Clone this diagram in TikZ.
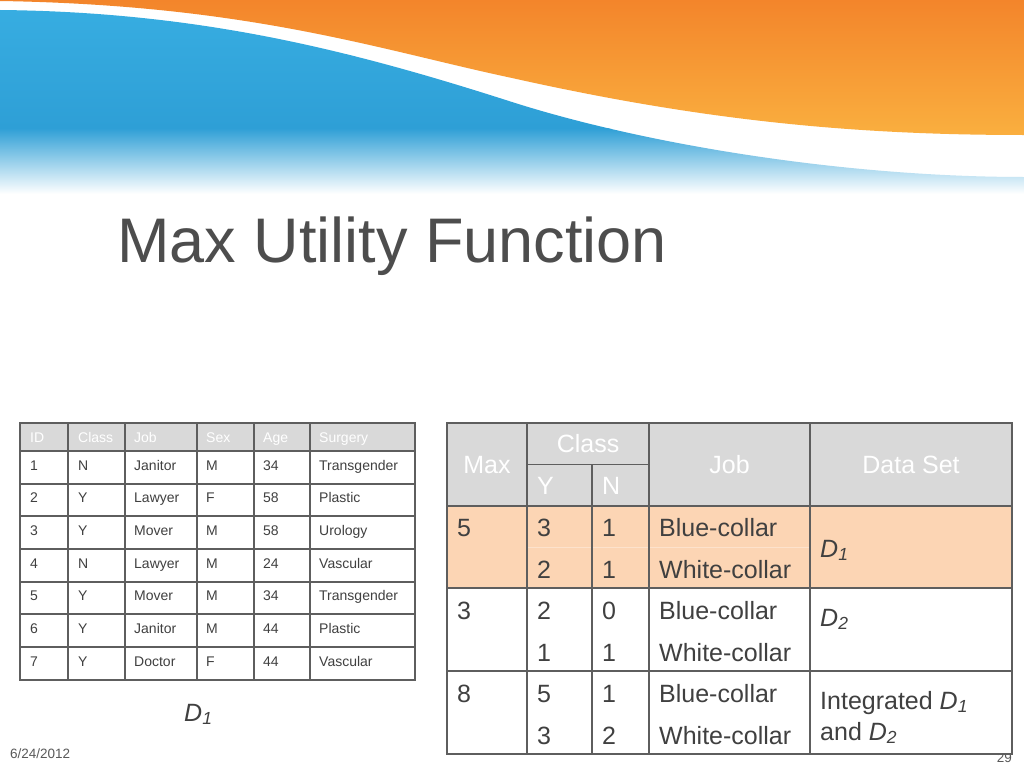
\documentclass[tikz,border=0pt]{standalone}
\usepackage{fontspec}
\setmainfont{Liberation Sans}
\definecolor{blueTop}{HTML}{38AEE2}
\definecolor{blueMid}{HTML}{2E9FD6}
\definecolor{orTop}{HTML}{F3852B}
\definecolor{orBot}{HTML}{FAAF3F}
\definecolor{hdrgray}{HTML}{D9D9D9}
\definecolor{peach}{HTML}{FCD5B4}
\definecolor{peachline}{HTML}{FDE2CC}
\definecolor{txt}{HTML}{404040}
\definecolor{ttl}{HTML}{4D4D4D}
\definecolor{rule}{HTML}{5E5E5E}
\definecolor{foot}{HTML}{595959}
\tikzset{
  title/.style={inner sep=0pt, text=ttl, font=\fontsize{63}{70}\selectfont},
  ltxt/.style={inner sep=0pt, anchor=base west, text=txt, font=\fontsize{14}{16}\selectfont},
  lhdr/.style={ltxt, text=white},
  rtxt/.style={inner sep=0pt, anchor=base west, text=txt, font=\fontsize{25}{30}\selectfont},
  rhdr/.style={inner sep=0pt, text=white, font=\fontsize{25}{30}\selectfont},
  foottxt/.style={inner sep=0pt, text=foot, font=\fontsize{13.5}{16}\selectfont},
  tline/.style={draw=rule, line width=1.4pt},
  rline/.style={draw=rule, line width=1.6pt}
}
\begin{document}
\begin{tikzpicture}[x=1pt,y=-1pt]
\useasboundingbox (0,0) rectangle (1024,768);
\fill[white] (0,0) rectangle (1024,768);

% ---- banner: blue wave ----
\begin{scope}
\clip (0,10) .. controls (200,12) and (350,50) .. (512,102)
      .. controls (650,146) and (850,177) .. (1024,177)
      -- (1024,200) -- (0,200) -- cycle;
\shade[top color=blueTop, bottom color=blueMid] (0,0) rectangle (1024,128);
\shade[top color=blueMid, bottom color=white] (0,128) rectangle (1024,194);
\end{scope}
% ---- banner: orange wave ----
\shade[top color=orTop, bottom color=orBot] (0,0) -- (0,1)
      .. controls (250,5) and (380,50) .. (512,78)
      .. controls (700,120) and (850,135) .. (1024,135)
      -- (1024,0) -- cycle;

% ---- title ----
\node[title, anchor=base west] (title) at (117,262) {Max Utility Function};

% ---- footer ----
\node[foottxt, anchor=base west] (date) at (10,758) {6/24/2012};
\node[foottxt, anchor=base east] (page) at (1012,762) {29};

% ---- left table ----
\fill[hdrgray] (20,423) rectangle (415,451);
\fill[white] (20,451) rectangle (415,680);
\foreach \yy in {451,484,516,549,582,614,647}
  \draw[tline] (20,\yy) -- (415,\yy);
\foreach \xx in {68,125,197,254,310}
  \draw[tline] (\xx,423) -- (\xx,680);
\draw[tline] (20,423) rectangle (415,680);

\node[lhdr] (h1) at (30,442) {ID};
\node[lhdr] (h2) at (78,442) {Class};
\node[lhdr] (h3) at (134,442) {Job};
\node[lhdr] (h4) at (206,442) {Sex};
\node[lhdr] (h5) at (263,442) {Age};
\node[lhdr] (h6) at (319,442) {Surgery};

\foreach \i/\a/\b/\c/\d/\e/\f in {
  0/1/N/Janitor/M/34/Transgender,
  1/2/Y/Lawyer/F/58/Plastic,
  2/3/Y/Mover/M/58/Urology,
  3/4/N/Lawyer/M/24/Vascular,
  4/5/Y/Mover/M/34/Transgender,
  5/6/Y/Janitor/M/44/Plastic,
  6/7/Y/Doctor/F/44/Vascular}{
  \pgfmathsetmacro{\yb}{470+\i*32.7}
  \node[ltxt] (l\i a) at (30,\yb) {\a};
  \node[ltxt] (l\i b) at (78,\yb) {\b};
  \node[ltxt] (l\i c) at (134,\yb) {\c};
  \node[ltxt] (l\i d) at (206,\yb) {\d};
  \node[ltxt] (l\i e) at (263,\yb) {\e};
  \node[ltxt] (l\i f) at (319,\yb) {\f};
}
\node[rtxt] (d1left) at (184,721) {\textit{D\textsubscript{1}}};

% ---- right table ----
\fill[hdrgray] (447,423) rectangle (1012,506);
\fill[peach] (447,506) rectangle (1012,588);
\fill[white] (447,588) rectangle (1012,754);
\draw[peachline, line width=1pt] (527,547) -- (810,547);
\draw[rline] (527,464.5) -- (649,464.5);
\foreach \yy in {506,588,671}
  \draw[rline] (447,\yy) -- (1012,\yy);
\foreach \xx in {527,649,810}
  \draw[rline] (\xx,423) -- (\xx,754);
\draw[rline] (592,464.5) -- (592,754);
\draw[rline] (447,423) rectangle (1012,754);

\node[rhdr] (rmax) at (487,465) {Max};
\node[rhdr] (rclass) at (588,444) {Class};
\node[rhdr, anchor=west] (ry) at (537,486) {Y};
\node[rhdr, anchor=west] (rn) at (602,486) {N};
\node[rhdr] (rjob) at (729.5,465) {Job};
\node[rhdr] (rds) at (911,465) {Data Set};

% row 1
\node[rtxt] (r1a) at (457,536) {5};
\node[rtxt] (r1b) at (537,536) {3};
\node[rtxt] (r1c) at (602,536) {1};
\node[rtxt] (r1d) at (659,536) {Blue-collar};
\node[rtxt] (r1e) at (537,578) {2};
\node[rtxt] (r1f) at (602,578) {1};
\node[rtxt] (r1g) at (659,578) {White-collar};
\node[rtxt] (r1h) at (820,557) {\textit{D\textsubscript{1}}};
% row 2
\node[rtxt] (r2a) at (457,619) {3};
\node[rtxt] (r2b) at (537,619) {2};
\node[rtxt] (r2c) at (602,619) {0};
\node[rtxt] (r2d) at (659,619) {Blue-collar};
\node[rtxt] (r2e) at (537,661) {1};
\node[rtxt] (r2f) at (602,661) {1};
\node[rtxt] (r2g) at (659,661) {White-collar};
\node[rtxt] (r2h) at (820,626) {\textit{D\textsubscript{2}}};
% row 3
\node[rtxt] (r3a) at (457,702) {8};
\node[rtxt] (r3b) at (537,702) {5};
\node[rtxt] (r3c) at (602,702) {1};
\node[rtxt] (r3d) at (659,702) {Blue-collar};
\node[rtxt] (r3e) at (537,744) {3};
\node[rtxt] (r3f) at (602,744) {2};
\node[rtxt] (r3g) at (659,744) {White-collar};
\node[rtxt] (r3h) at (820,709) {Integrated \textit{D\textsubscript{1}}};
\node[rtxt] (r3i) at (820,740) {and \textit{D\textsubscript{2}}};
\end{tikzpicture}
\end{document}
